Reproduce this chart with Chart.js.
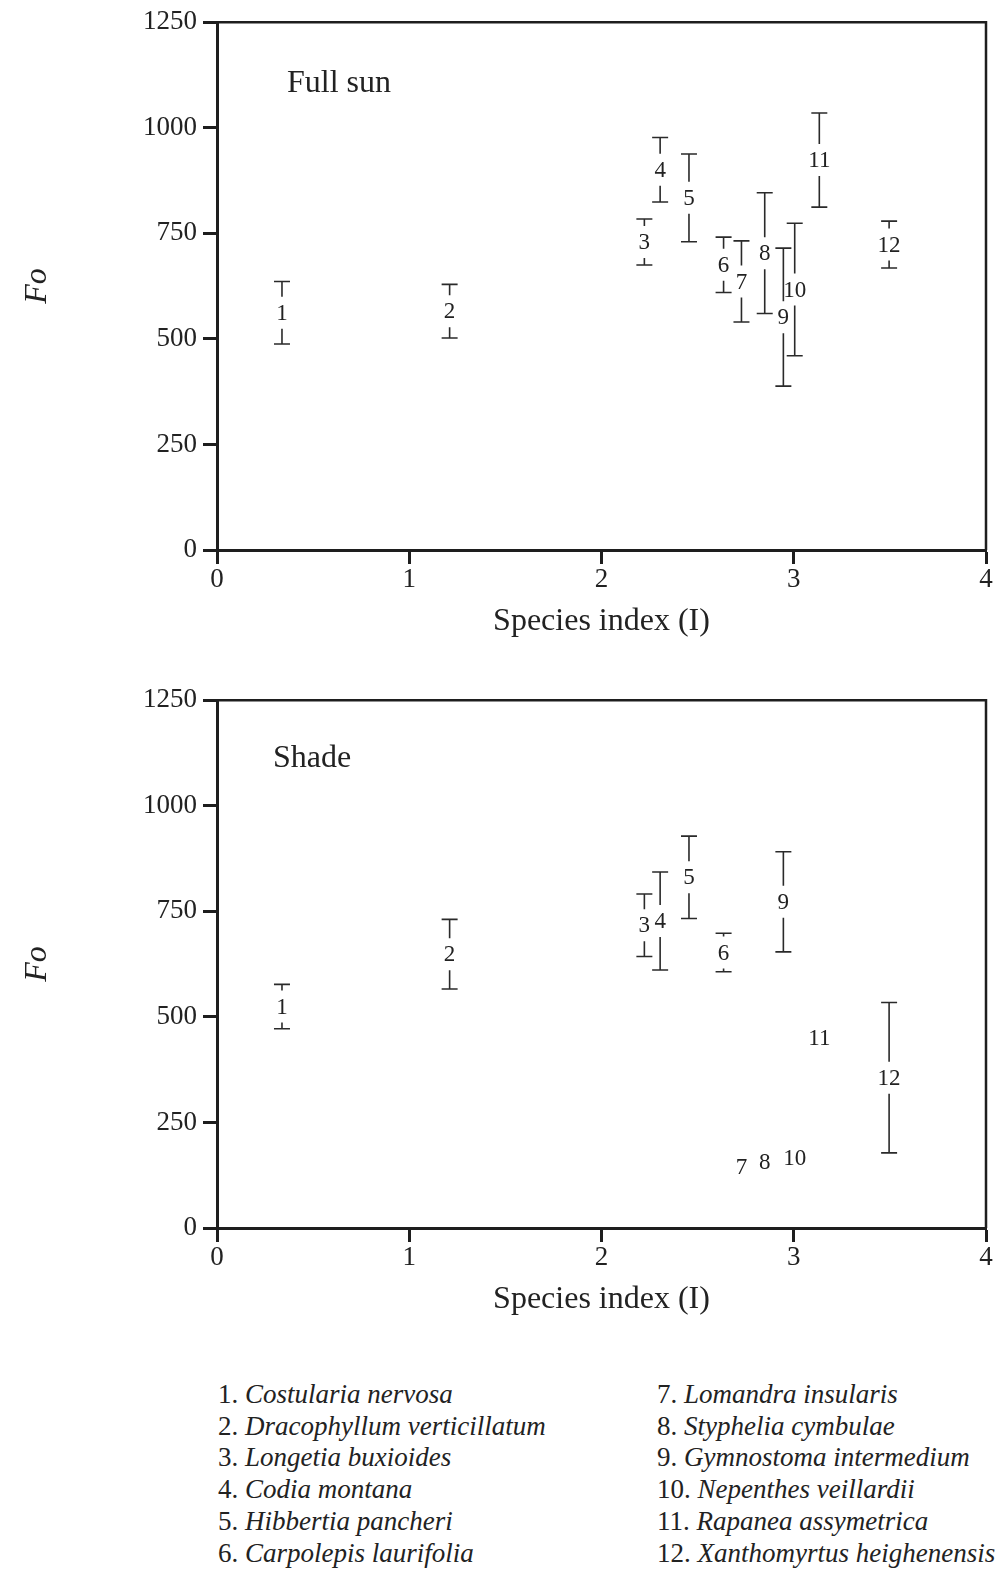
<!DOCTYPE html>
<html>
<head>
<meta charset="utf-8">
<title>Fo versus species index</title>
<script src="https://cdn.jsdelivr.net/npm/chart.js@4.4.1/dist/chart.umd.min.js"></script>
<style>
  html, body { margin: 0; padding: 0; background: #fff; }
  #page { position: relative; width: 997px; height: 1569px; overflow: hidden; }
  canvas { position: absolute; left: 0; }
  #sun { top: 0; }
  #shade { top: 678px; }
  .key {
    position: absolute; top: 1379px;
    font-family: "Liberation Serif", "Times New Roman", serif;
    font-size: 27px; line-height: 31.7px; color: #222;
    white-space: nowrap;
  }
  #keyLeft { left: 218px; }
  #keyRight { left: 657px; }
</style>
</head>
<body>
<div id="page">
  <canvas id="sun" width="997" height="660"></canvas>
  <canvas id="shade" width="997" height="660"></canvas>
  <div class="key" id="keyLeft"></div>
  <div class="key" id="keyRight"></div>
</div>
<script>
// species numbers and names (key under the plots)
const speciesNo = ["1", "2", "3", "4", "5", "6", "7", "8", "9", "10", "11", "12"];
const speciesName = [
  "Costularia nervosa", "Dracophyllum verticillatum", "Longetia buxioides",
  "Codia montana", "Hibbertia pancheri", "Carpolepis laurifolia",
  "Lomandra insularis", "Styphelia cymbulae", "Gymnostoma intermedium",
  "Nepenthes veillardii", "Rapanea assymetrica", "Xanthomyrtus heighenensis"
];
// species index (I) on the x axis
const speciesIndex = [0.338, 1.21, 2.223, 2.305, 2.455, 2.635, 2.728, 2.849, 2.946, 3.005, 3.133, 3.496];

// Fo range, full sun
const sunLow  = [488, 502, 675, 824, 730, 610, 540, 560, 388, 460, 812, 668];
const sunHigh = [636, 629, 784, 977, 938, 741, 732, 846, 715, 774, 1035, 779];

// Fo range, shade (low == high: only the number is printed)
const shadeLow  = [472, 566, 643, 611, 733, 607, 144, 156, 654, 165, 450, 178];
const shadeHigh = [577, 731, 791, 843, 928, 698, 144, 156, 891, 165, 450, 534];

const yTicks = [0, 250, 500, 750, 1000, 1250];
const xTicks = [0, 1, 2, 3, 4];

const SERIF = '"Liberation Serif", "Times New Roman", serif';
const INK = "#222";
Chart.defaults.font.family = SERIF;
Chart.defaults.color = INK;

// key
document.getElementById("keyLeft").innerHTML = speciesNo.slice(0, 6)
  .map((n, i) => n + ". <i>" + speciesName[i] + "</i>").join("<br>");
document.getElementById("keyRight").innerHTML = speciesNo.slice(6)
  .map((n, i) => n + ". <i>" + speciesName[i + 6] + "</i>").join("<br>");

// range bars with the species number sitting in a gap at the midpoint
const rangeBars = {
  id: "rangeBars",
  afterDatasetsDraw(chart) {
    const { ctx, scales: { x, y } } = chart;
    const pts = chart.data.datasets[0].data;
    const gap = 16, cap = 8;
    ctx.save();
    ctx.strokeStyle = "#2a2a2a";
    ctx.lineWidth = 1.6;
    ctx.fillStyle = INK;
    ctx.font = "23px " + SERIF;
    ctx.textAlign = "center";
    ctx.textBaseline = "middle";
    pts.forEach(p => {
      const px = x.getPixelForValue(p.x);
      const pm = y.getPixelForValue(p.y);
      if (p.hi - p.lo > 1) {
        const top = y.getPixelForValue(p.hi);
        const bot = y.getPixelForValue(p.lo);
        ctx.beginPath();
        ctx.moveTo(px - cap, top); ctx.lineTo(px + cap, top);
        ctx.moveTo(px - cap, bot); ctx.lineTo(px + cap, bot);
        if (pm - gap > top) { ctx.moveTo(px, top); ctx.lineTo(px, pm - gap); }
        if (pm + gap < bot) { ctx.moveTo(px, pm + gap); ctx.lineTo(px, bot); }
        ctx.stroke();
      }
      ctx.fillText(p.label, px, pm + 1);
    });
    ctx.restore();
  }
};

// closed frame on top/right plus the panel caption
function frameWith(caption, dx, dy) {
  return {
    id: "frame",
    afterDraw(chart) {
      const { ctx, chartArea: a } = chart;
      ctx.save();
      ctx.strokeStyle = "#1e1e1e";
      ctx.lineWidth = 2.5;
      ctx.beginPath();
      ctx.moveTo(a.left, a.top);
      ctx.lineTo(a.right, a.top);
      ctx.lineTo(a.right, a.bottom);
      ctx.stroke();
      ctx.fillStyle = INK;
      ctx.font = "32px " + SERIF;
      ctx.textAlign = "left";
      ctx.textBaseline = "middle";
      ctx.fillText(caption, a.left + dx, a.top + dy);
      ctx.restore();
    }
  };
}

function makePanel(canvasId, low, high, caption, dx, dy) {
  const points = speciesIndex.map((xi, i) => ({
    x: xi, y: (low[i] + high[i]) / 2, lo: low[i], hi: high[i], label: speciesNo[i]
  }));
  const axisLine = { display: true, color: "#1e1e1e", width: 3 };
  const tickMarks = { drawOnChartArea: false, drawTicks: true, tickLength: 14, tickWidth: 3, tickColor: "#1e1e1e" };
  return new Chart(document.getElementById(canvasId), {
    type: "scatter",
    data: { datasets: [{ data: points, pointRadius: 0, pointHoverRadius: 0, showLine: false }] },
    options: {
      responsive: false,
      animation: false,
      events: [],
      layout: { padding: { top: 17, right: 11, left: 0, bottom: 0 } },
      plugins: { legend: { display: false }, tooltip: { enabled: false } },
      scales: {
        x: {
          type: "linear", min: 0, max: 4,
          border: axisLine, grid: tickMarks,
          afterBuildTicks: s => { s.ticks = xTicks.map(v => ({ value: v })); },
          afterFit: s => { s.height = 110; },
          ticks: { font: { size: 27 }, padding: 0, maxRotation: 0, callback: v => String(v) },
          title: { display: true, text: "Species index (I)", font: { size: 32 }, padding: { top: 0, bottom: 19 } }
        },
        y: {
          type: "linear", min: 0, max: 1250,
          border: axisLine, grid: tickMarks,
          afterBuildTicks: s => { s.ticks = yTicks.map(v => ({ value: v })); },
          afterFit: s => { s.width = 217; },
          ticks: { font: { size: 27 }, padding: 6, callback: v => String(v) },
          title: { display: true, text: "Fo", font: { size: 32, style: "italic" }, padding: { top: 18, bottom: 0 } }
        }
      }
    },
    plugins: [rangeBars, frameWith(caption, dx, dy)]
  });
}

makePanel("sun", sunLow, sunHigh, "Full sun", 70, 61);
makePanel("shade", shadeLow, shadeHigh, "Shade", 56, 58);
</script>
</body>
</html>
